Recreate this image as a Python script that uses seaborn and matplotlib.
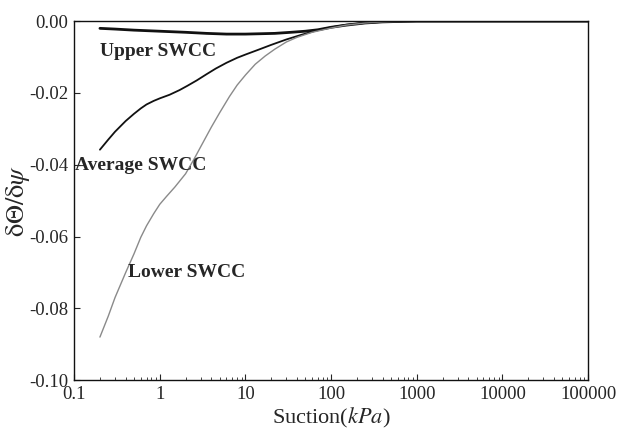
import matplotlib
matplotlib.use("Agg")
import matplotlib.pyplot as plt
import matplotlib.ticker as mticker
import numpy as np
import pandas as pd
import seaborn as sns

# Suction (kPa) and slope of the soil-water characteristic curves
upper_suction = [0.2, 0.3, 0.5, 1, 2, 3.5, 6, 10, 15, 22, 34, 50, 70, 100,
                 150, 250, 400, 700, 1000, 100000]
upper_slope = [-0.0020, -0.0022, -0.0025, -0.0028, -0.0031, -0.0034, -0.0036,
               -0.0036, -0.0035, -0.0034, -0.0031, -0.0028, -0.0024, -0.0017,
               -0.0011, -0.0005, -0.0002, -0.00005, 0.0, 0.0]

average_suction = [0.2, 0.25, 0.3, 0.4, 0.5, 0.6, 0.7, 0.85, 1.0, 1.3, 1.7,
                   2.1, 2.7, 3.5, 4.5, 6, 8, 10, 14, 20, 30, 45, 70, 100, 150,
                   250, 400, 700, 1000, 100000]
average_slope = [-0.0358, -0.0330, -0.0308, -0.0278, -0.0258, -0.0243, -0.0232,
                 -0.0222, -0.0215, -0.0205, -0.0192, -0.0180, -0.0165, -0.0148,
                 -0.0132, -0.0116, -0.0102, -0.0093, -0.0080, -0.0066, -0.0051,
                 -0.0038, -0.0025, -0.0017, -0.0010, -0.0005, -0.0002, -0.00005,
                 0.0, 0.0]

lower_suction = [0.2, 0.25, 0.3, 0.4, 0.5, 0.6, 0.7, 0.85, 1.0, 1.2, 1.5, 2.0,
                 2.5, 3.0, 4.0, 5.0, 6.5, 8.0, 10, 13, 17, 22, 30, 40, 60, 100,
                 150, 250, 400, 700, 1000, 100000]
lower_slope = [-0.0880, -0.0822, -0.0770, -0.0700, -0.0648, -0.0602, -0.0570,
               -0.0536, -0.0510, -0.0488, -0.0462, -0.0425, -0.0385, -0.0350,
               -0.0295, -0.0255, -0.0210, -0.0178, -0.0150, -0.0120, -0.0097,
               -0.0078, -0.0058, -0.0045, -0.0031, -0.0019, -0.0011, -0.0005,
               -0.0002, -0.00005, 0.0, 0.0]

curve_names = ["Upper SWCC", "Average SWCC", "Lower SWCC"]
x_tick_values = [0.1, 1, 10, 100, 1000, 10000, 100000]
x_tick_labels = ["0.1", "1", "10", "100", "1000", "10000", "100000"]
y_tick_values = [0.00, -0.02, -0.04, -0.06, -0.08, -0.10]
y_tick_labels = ["0.00", "-0.02", "-0.04", "-0.06", "-0.08", "-0.10"]

frames = []
for name, xs, ys in zip(curve_names,
                        [upper_suction, average_suction, lower_suction],
                        [upper_slope, average_slope, lower_slope]):
    frames.append(pd.DataFrame({"suction": xs, "slope": ys, "curve": name}))
data = pd.concat(frames, ignore_index=True)

sns.set_style("ticks", {"xtick.direction": "in", "ytick.direction": "in"})
plt.rcParams["font.family"] = ["Liberation Serif", "DejaVu Serif"]
plt.rcParams["mathtext.fontset"] = "stix"

fig = plt.figure(figsize=(6.23, 4.32), dpi=100)
ax = fig.add_axes([0.119, 0.120, 0.825, 0.831])

styles = {
    "Upper SWCC": dict(color="#111111", lw=2.0),
    "Average SWCC": dict(color="#111111", lw=1.3),
    "Lower SWCC": dict(color="#8a8a8a", lw=1.0),
}
for name in curve_names:
    sub = data[data["curve"] == name]
    sns.lineplot(data=sub, x="suction", y="slope", sort=False, ax=ax,
                 estimator=None, **styles[name])

ax.set_xscale("log")
ax.set_xlim(0.1, 100000)
ax.set_ylim(-0.10, 0.0)
ax.xaxis.set_major_locator(mticker.FixedLocator(x_tick_values))
ax.xaxis.set_major_formatter(mticker.FixedFormatter(x_tick_labels))
ax.xaxis.set_minor_locator(mticker.LogLocator(base=10, subs=np.arange(2, 10), numticks=20))
ax.xaxis.set_minor_formatter(mticker.NullFormatter())
ax.set_yticks(y_tick_values)
ax.set_yticklabels(y_tick_labels)
ax.tick_params(axis="both", which="major", length=4, width=0.8, labelsize=13.5, pad=4)
ax.tick_params(axis="x", which="minor", length=2, width=0.6)

for side in ["top", "right", "left", "bottom"]:
    ax.spines[side].set_visible(True)
    ax.spines[side].set_linewidth(1.0)
    ax.spines[side].set_color("#111111")

ax.set_xlabel(r"Suction($kPa$)", fontsize=16, labelpad=2)
ax.set_ylabel(r"$\mathrm{\delta\Theta/\delta}\psi$", fontsize=19, labelpad=-2)

ax.text(0.2, -0.0085, "Upper SWCC", fontsize=14, fontweight="bold",
        ha="left", va="center")
ax.text(0.103, -0.0403, "Average SWCC", fontsize=14, fontweight="bold",
        ha="left", va="center")
ax.text(0.43, -0.0700, "Lower SWCC", fontsize=14, fontweight="bold",
        ha="left", va="center")

fig.savefig("out.png", dpi=100)
